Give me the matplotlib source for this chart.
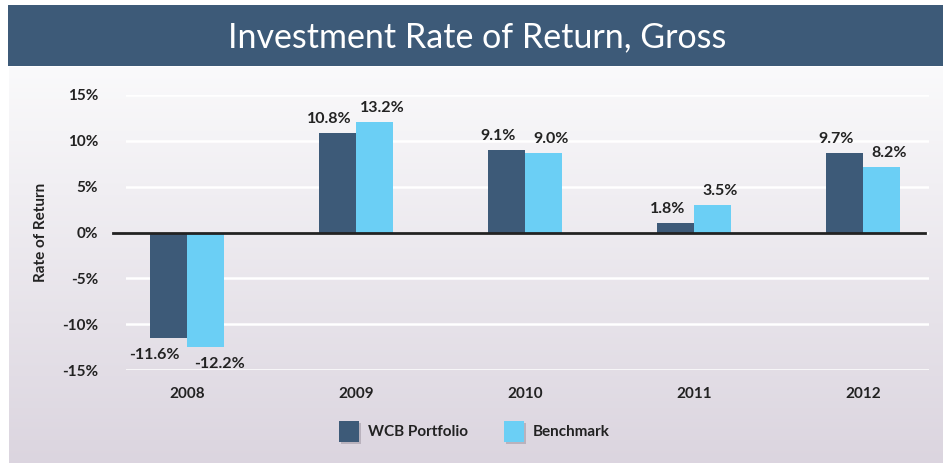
import numpy as np
import matplotlib
matplotlib.use("Agg")
import matplotlib.pyplot as plt
from matplotlib.patches import Rectangle

years = ["2008", "2009", "2010", "2011", "2012"]
wcb_values = [-11.5, 10.9, 9.0, 1.0, 8.7]
bench_values = [-12.5, 12.1, 8.7, 3.0, 7.1]
wcb_labels = ["-11.6%", "10.8%", "9.1%", "1.8%", "9.7%"]
bench_labels = ["-12.2%", "13.2%", "9.0%", "3.5%", "8.2%"]
yticks = [-15, -10, -5, 0, 5, 10, 15]
ytick_labels = ["-15%", "-10%", "-5%", "0%", "5%", "10%", "15%"]
series_names = ["WCB Portfolio", "Benchmark"]
title = "Investment Rate of Return, Gross"

DARK = "#3d5a78"
LIGHT = "#6bcff5"
W, H = 943, 463
plt.rcParams['font.family'] = ['Lato', 'DejaVu Sans']

fig = plt.figure(figsize=(W / 100, H / 100), dpi=100)
fig.patch.set_facecolor("white")

def px(x0, y0, x1, y1):
    return [x0 / W, 1 - y1 / H, (x1 - x0) / W, (y1 - y0) / H]

# background gradient
bg = fig.add_axes(px(9, 67, 943, 463))
grad = np.linspace(0, 1, 256).reshape(-1, 1)
c0 = np.array([0.98, 0.98, 0.985])
c1 = np.array([0.86, 0.835, 0.875])
img = c0 + (c1 - c0) * grad[..., None]
bg.imshow(img.reshape(256, 1, 3), aspect="auto", extent=(0, 1, 0, 1), origin="upper")
bg.set_axis_off()

# banner
ban = fig.add_axes(px(8, 5, 943, 66))
ban.set_axis_off()
ban.add_patch(Rectangle((0, 0), 1, 1, transform=ban.transAxes, color=DARK))
fig.text(477 / W, 1 - 37 / H, title, ha="center", va="center", color="white",
         fontsize=24.5, fontweight="normal")

# main axes
ax = fig.add_axes(px(126, 95, 929, 370))
ax.patch.set_alpha(0)
x = np.arange(len(years))
bw = 0.219
ax.bar(x - bw / 2, wcb_values, bw, color=DARK, zorder=3, label=series_names[0])
ax.bar(x + bw / 2, bench_values, bw, color=LIGHT, zorder=3, label=series_names[1])
left = (126 - 187) / 169
ax.set_xlim(left, left + 803 / 169)
ax.set_ylim(-15, 15)
ax.set_yticks(yticks)
ax.set_yticklabels(ytick_labels)
ax.set_xticks(x)
ax.set_xticklabels(years)
for s in ax.spines.values():
    s.set_visible(False)
ax.grid(axis="y", color="white", linewidth=1.8, zorder=1)
ax.tick_params(axis="both", length=0, labelsize=11, colors="#222222")
ax.tick_params(axis="y", pad=20)
ax.tick_params(axis="x", pad=12)
for t in ax.get_xticklabels() + ax.get_yticklabels():
    t.set_fontweight("bold")
ax.axhline(0, xmin=-0.016, xmax=0.995, color="#222222", linewidth=2, zorder=4, clip_on=False)
ax.set_ylabel("Rate of Return", fontsize=11, fontweight="bold", color="#222222")
ax.yaxis.set_label_coords(-78 / 803, 0.5)

for i in range(len(years)):
    for val, lab, dx, sh in [(wcb_values[i], wcb_labels[i], -bw / 2, -8),
                             (bench_values[i], bench_labels[i], bw / 2, 8)]:
        if val >= 0:
            ax.annotate(lab, (x[i] + dx, val), xytext=(sh * 0.72, 5), textcoords="offset points",
                        ha="center", va="bottom", fontsize=11.5, fontweight="bold", color="#222222")
        else:
            ax.annotate(lab, (x[i] + dx, val), xytext=(sh * 1.3, -7), textcoords="offset points",
                        ha="center", va="top", fontsize=11.5, fontweight="bold", color="#222222")

# legend
for (x0, name, col) in [(339, series_names[0], DARK), (504, series_names[1], LIGHT)]:
    la = fig.add_axes(px(x0 + 2, 423, x0 + 22, 444))
    la.set_axis_off()
    la.add_patch(Rectangle((0, 0), 1, 1, transform=la.transAxes, color="#b9b2bd"))
    la2 = fig.add_axes(px(x0, 421, x0 + 20, 442))
    la2.set_axis_off()
    la2.add_patch(Rectangle((0, 0), 1, 1, transform=la2.transAxes, color=col))
    fig.text((x0 + 29) / W, 1 - 432 / H, name, ha="left", va="center", fontsize=11,
             fontweight="bold", color="#222222")

fig.savefig("out.png", dpi=100)
